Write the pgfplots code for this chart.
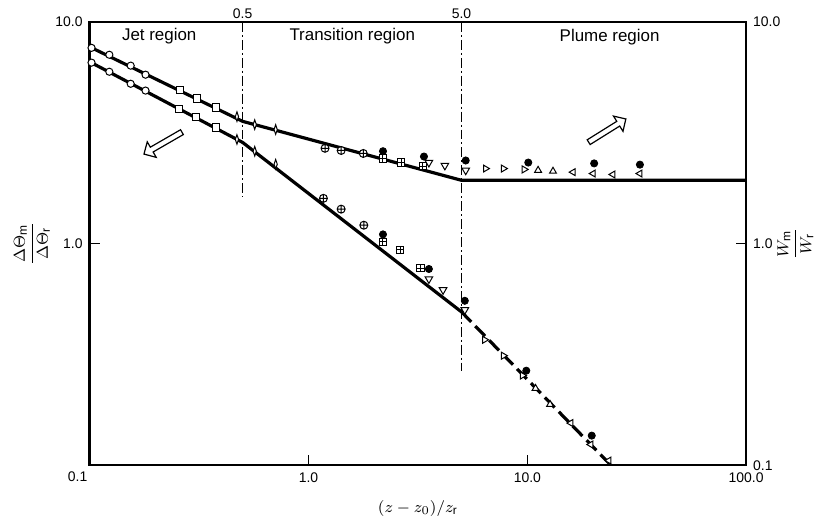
\documentclass[border=0pt]{standalone}
\usepackage{pgfplots}
\pgfplotsset{compat=1.18}
\usepackage{fontspec}
\setmainfont{Liberation Sans}
\usetikzlibrary{shapes.arrows,calc}
\newcommand{\tickfont}{\fontsize{7}{8}\selectfont}
\newcommand{\regfont}{\fontsize{8.5}{10}\selectfont}
\newcommand{\labfont}{\fontsize{8}{10}\selectfont}
\begin{document}
\begin{tikzpicture}
\begin{axis}[
  name=ax,
  scale only axis, width=329.5pt, height=222.5pt,
  xmode=log, ymode=log,
  xmin=0.1, xmax=100, ymin=0.1, ymax=10,
  axis line style={line width=1.2pt},
  tick style={line width=0.8pt, black},
  tick align=inside, major tick length=5pt,
  xtick={1,10,100}, xticklabels={1.0,10.0,100.0},
  ytick={1,10}, yticklabels={1.0,10.0},
  xminorticks=false, yminorticks=false,
  xtick pos=bottom, ytick pos=left,
  tick label style={font=\tickfont},
  xlabel={$(z-z_{0})/z_{\mathrm{r}}$},
  xlabel style={font=\regfont, at={(rel axis cs:0.5,0)}, anchor=center, yshift=-21.5pt},
  ylabel={$\displaystyle\frac{\Delta\Theta_{\mathrm{m}}}{\Delta\Theta_{\mathrm{r}}}$},
  ylabel style={font=\labfont, at={(rel axis cs:-0.088,0.5)}, anchor=center},
  clip=false,
]
% dash-dot region boundaries
\addplot[black, line width=0.6pt, dash pattern=on 5pt off 1.5pt on 1pt off 1.5pt] coordinates {(0.5,10) (0.5,1.63)};
\addplot[black, line width=0.6pt, dash pattern=on 5pt off 1.5pt on 1pt off 1.5pt] coordinates {(5,10) (5,0.267)};
% fitted lines
\addplot[black, line width=1.6pt] coordinates {(0.1,7.72) (0.5,3.56) (5,1.93) (100,1.93)};
\addplot[black, line width=1.6pt] coordinates {(0.1,6.61) (0.5,2.86) (5,0.492)};
\addplot[black, line width=1.6pt, dash pattern=on 7pt off 3pt] coordinates {(5,0.492) (24.1,0.1)};
% open circles
\addplot[black, only marks, mark=*, mark size=1.8pt, mark options={fill=white, line width=0.5pt}] coordinates {(0.102,7.64) (0.123,7.11) (0.154,6.35) (0.180,5.78) (0.102,6.55) (0.123,5.96) (0.154,5.26) (0.180,4.90)};
% open squares
\addplot[black, only marks, mark=square*, mark size=1.8pt, mark options={fill=white, line width=0.5pt}] coordinates {(0.259,4.94) (0.310,4.51) (0.378,4.11) (0.256,4.06) (0.306,3.74) (0.378,3.34)};
% thin diamonds
\addplot[black, only marks, mark=diamond*, mark size=2.4pt, mark options={fill=white, line width=0.5pt, xscale=0.45}] coordinates {(0.471,3.74) (0.568,3.44) (0.708,3.27) (0.471,2.95) (0.568,2.61) (0.708,2.28)};
% circled plus
\addplot[black, only marks, mark=oplus*, mark size=2pt, mark options={fill=white, line width=0.5pt}] coordinates {(1.19,2.69) (1.41,2.63) (1.78,2.55) (1.17,1.60) (1.41,1.43) (1.79,1.21)};
% squared plus
\addplot[black, only marks, mark=square*, mark size=1.8pt, mark options={fill=white, line width=0.5pt}] coordinates {(2.19,2.42) (2.65,2.32) (3.33,2.23) (2.19,1.02) (2.62,0.936) (3.25,0.776)};
\addplot[black, only marks, mark=+, mark size=1.8pt, mark options={line width=0.5pt}] coordinates {(2.19,2.42) (2.65,2.32) (3.33,2.23) (2.19,1.02) (2.62,0.936) (3.25,0.776)};
% down triangles
\addplot[black, only marks, mark=triangle*, mark size=2.2pt, mark options={fill=white, line width=0.5pt, rotate=180}] coordinates {(3.55,2.32) (4.2,2.25) (5.23,2.14) (3.55,0.692) (4.12,0.618) (5.18,0.502)};
% right triangles
\addplot[black, only marks, mark=triangle*, mark size=2pt, mark options={fill=white, line width=0.5pt, rotate=-90}] coordinates {(6.44,2.18) (7.78,2.18) (9.68,2.16) (6.38,0.368) (7.78,0.312) (9.5,0.254)};
% up triangles
\addplot[black, only marks, mark=triangle*, mark size=2pt, mark options={fill=white, line width=0.5pt}] coordinates {(11.2,2.14) (13.1,2.12) (10.9,0.222) (12.7,0.188)};
% left triangles
\addplot[black, only marks, mark=triangle*, mark size=2pt, mark options={fill=white, line width=0.5pt, rotate=90}] coordinates {(16.2,2.10) (20.0,2.07) (24.6,2.05) (32.7,2.07) (15.8,0.155) (19.5,0.124) (23.6,0.105)};
% filled circles
\addplot[black, only marks, mark=*, mark size=1.8pt] coordinates {(2.19,2.61) (3.37,2.47) (5.23,2.37) (10.1,2.32) (20.2,2.30) (32.7,2.27) (2.19,1.10) (3.55,0.768) (5.18,0.552) (9.89,0.267) (19.7,0.136)};
\coordinate (jet) at (rel axis cs:0.106,0.969);
\coordinate (tra) at (rel axis cs:0.400,0.969);
\coordinate (plu) at (rel axis cs:0.792,0.966);
\coordinate (t05) at (axis cs:0.5,10);
\coordinate (t50) at (axis cs:5,10);
\coordinate (arL) at (axis cs:0.219,2.86);
\coordinate (arR) at (axis cs:22.9,3.21);
\end{axis}
\begin{axis}[
  scale only axis, width=329.5pt, height=222.5pt,
  xmode=log, ymode=log,
  xmin=0.1, xmax=100, ymin=0.1, ymax=10,
  axis x line=none, axis y line*=right,
  axis line style={line width=1.2pt},
  tick style={line width=0.8pt, black},
  tick align=inside, major tick length=5pt,
  ytick={0.1,1,10}, yticklabels={0.1,1.0,10.0},
  yminorticks=false,
  tick label style={font=\tickfont},
  ylabel={$\displaystyle\frac{W_{\mathrm{m}}}{W_{\mathrm{r}}}$},
  ylabel style={font=\labfont, at={(rel axis cs:1.075,0.5)}, anchor=center},
]
\end{axis}
\node[font=\regfont] at (jet) {Jet region};
\node[font=\regfont] at (tra) {Transition region};
\node[font=\regfont] at (plu) {Plume region};
\node[font=\tickfont, anchor=south, inner sep=1.5pt] at (t05) {0.5};
\node[font=\tickfont, anchor=south, inner sep=1.5pt] at (t50) {5.0};
\node[font=\tickfont, anchor=north east, inner sep=1pt] at ($(ax.south west)+(0,-2pt)$) {0.1};
\node[single arrow, draw, fill=white, line width=0.6pt, minimum height=22pt, minimum width=9pt, single arrow head extend=2pt, inner sep=0.6pt, rotate=210] at (arL) {};
\node[single arrow, draw, fill=white, line width=0.6pt, minimum height=22pt, minimum width=9pt, single arrow head extend=2pt, inner sep=0.6pt, rotate=32] at (arR) {};
\path ($(ax.south west)+(-45pt,-28.5pt)$) rectangle ($(ax.north east)+(35pt,11pt)$);
\end{tikzpicture}
\end{document}
